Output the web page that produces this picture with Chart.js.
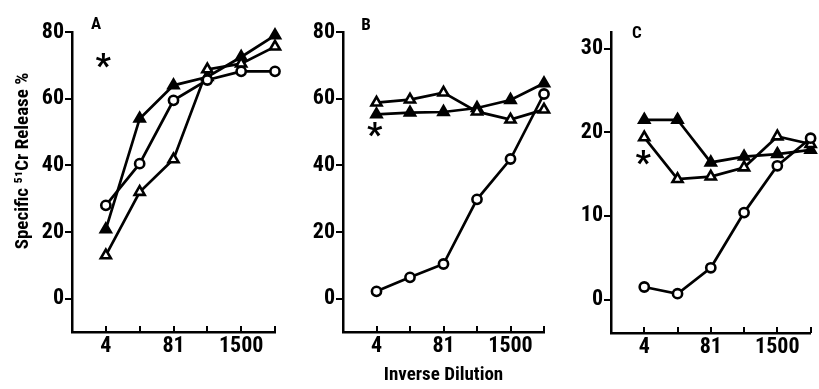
<!DOCTYPE html>
<html><head><meta charset="utf-8">
<script src="https://cdn.jsdelivr.net/npm/chart.js@4/dist/chart.umd.min.js"></script>
<style>
html,body{margin:0;padding:0;background:#fff;}
#wrap{position:relative;width:819px;height:389px;overflow:hidden;background:#fff;}
canvas{position:absolute;left:0;top:0;}
</style></head><body>
<div id="wrap">
<canvas id="cA" width="819" height="389"></canvas>
<canvas id="cB" width="819" height="389"></canvas>
<canvas id="cC" width="819" height="389"></canvas>
</div>
<script>
// ---- data ----
const xPositions = [0, 1, 2, 3, 4, 5];
const xTickLabels = ['4', '', '81', '', '1500', ''];

const A_openTri   = [13.0, 32.0, 41.8, 68.8, 70.5, 75.6];
const A_filledTri = [20.8, 54.0, 64.0, 66.5, 72.5, 79.0];
const A_circle    = [28.0, 40.5, 59.5, 65.6, 68.2, 68.2];
const A_yTicks    = [0, 20, 40, 60, 80];

const B_openTri   = [58.8, 59.7, 61.8, 56.1, 53.7, 56.7];
const B_filledTri = [55.3, 55.8, 56.0, 57.2, 59.6, 64.6];
const B_circle    = [2.2, 6.4, 10.4, 29.8, 41.9, 61.4];
const B_yTicks    = [0, 20, 40, 60, 80];

const C_openTri   = [19.4, 14.4, 14.7, 15.8, 19.5, 18.6];
const C_filledTri = [21.5, 21.5, 16.4, 17.1, 17.4, 17.9];
const C_circle    = [1.5, 0.7, 3.8, 10.4, 16.0, 19.3];
const C_yTicks    = [0, 10, 20, 30];

const panelLetters = ['A', 'B', 'C'];
const yTitle = 'Specific \u2075\u00B9Cr Release %';
const xTitle = 'Inverse Dilution';

// ---- style ----
const ink = '#000';
const FAM = '"Roboto Condensed", "Open Sans", sans-serif';
const tickFont = {family: FAM, size: 22, weight: 'bold'};

function pts(vals){ return xPositions.map((x, i) => ({x: x, y: vals[i]})); }

function ds(vals, style){
  const base = {data: pts(vals), borderColor: ink, borderWidth: 2.7, pointBorderColor: ink,
    pointBorderWidth: 2.6, pointHoverRadius: 5, tension: 0, clip: false, fill: false};
  if (style === 'circle') return Object.assign(base, {pointStyle: 'circle', pointRadius: 4.6, pointBackgroundColor: '#fff'});
  if (style === 'open') return Object.assign(base, {pointStyle: 'triangle', pointRadius: 5.8, pointBackgroundColor: '#fff'});
  return Object.assign(base, {pointStyle: 'triangle', pointRadius: 5.8, pointBackgroundColor: ink});
}

const xTickMarks = {
  id: 'xTickMarks',
  afterDraw(chart){
    const ctx = chart.ctx, xs = chart.scales.x, a = chart.chartArea;
    ctx.save(); ctx.strokeStyle = ink; ctx.lineWidth = 2;
    xPositions.forEach(v => {
      const px = Math.round(xs.getPixelForValue(v));
      ctx.beginPath(); ctx.moveTo(px, a.bottom); ctx.lineTo(px, a.bottom - 6); ctx.stroke();
    });
    ctx.restore();
  }
};

// text annotations placed in data coordinates, centred on their glyph box
function notesPlugin(notes){
  return {
    id: 'notes',
    afterDraw(chart){
      const ctx = chart.ctx, xs = chart.scales.x, ys = chart.scales.y;
      ctx.save(); ctx.fillStyle = ink; ctx.textAlign = 'center'; ctx.textBaseline = 'alphabetic';
      notes.forEach(n => {
        ctx.font = n.font;
        const m = ctx.measureText(n.text);
        const off = (m.actualBoundingBoxAscent - m.actualBoundingBoxDescent) / 2;
        const px = xs.getPixelForValue(n.x), py = ys.getPixelForValue(n.y);
        ctx.save(); ctx.translate(px, py);
        if (n.rotate) ctx.rotate(-Math.PI / 2);
        ctx.fillText(n.text, 0, off);
        ctx.restore();
      });
      ctx.restore();
    }
  };
}

function makePanel(id, circ, open, filled, yMin, yMax, yTicks, area, notes){
  const H = 30, W = 60;
  new Chart(document.getElementById(id), {
    type: 'line',
    data: {datasets: [ds(circ, 'circle'), ds(open, 'open'), ds(filled, 'filled')]},
    options: {
      responsive: false, animation: false, devicePixelRatio: 1,
      layout: {padding: {left: area.left - W, right: 819 - area.right, top: area.top, bottom: 389 - area.bottom - H}},
      plugins: {legend: {display: false}, tooltip: {enabled: false}},
      scales: {
        x: {type: 'linear', min: -1, max: 5,
          afterBuildTicks: s => { s.ticks = [-1].concat(xPositions).map(v => ({value: v})); },
          afterFit: s => { s.height = H; },
          grid: {display: false, drawTicks: false},
          border: {display: true, color: ink, width: 2.5},
          ticks: {autoSkip: false, maxRotation: 0, padding: 1, color: ink, font: tickFont,
            callback: v => (xTickLabels[v] !== undefined ? xTickLabels[v] : '')}
        },
        y: {type: 'linear', min: yMin, max: yMax,
          afterBuildTicks: s => { s.ticks = yTicks.map(v => ({value: v})); },
          afterFit: s => { s.width = W; },
          grid: {display: true, drawOnChartArea: false, drawTicks: true, tickLength: 7, color: ink, lineWidth: 2},
          border: {display: true, color: ink, width: 2.5},
          ticks: {padding: 1, color: ink, font: tickFont}
        }
      }
    },
    plugins: [xTickMarks, notesPlugin(notes)]
  });
}

const letterFont = 'bold 17px ' + FAM;
const starFont = 'bold 34px ' + FAM;
const titleFont = 'bold 19px ' + FAM;

makePanel('cA', A_circle, A_openTri, A_filledTri, -10, 80, A_yTicks,
  {left: 72, right: 275, top: 32, bottom: 332},
  [{text: panelLetters[0], x: -0.29, y: 82.7, font: letterFont},
   {text: '*', x: -0.08, y: 71.6, font: starFont},
   {text: yTitle, x: -2.46, y: 41.3, font: titleFont, rotate: true}]);

makePanel('cB', B_circle, B_openTri, B_filledTri, -10, 80, B_yTicks,
  {left: 343, right: 544, top: 32, bottom: 332},
  [{text: panelLetters[1], x: -0.31, y: 82.4, font: letterFont},
   {text: '*', x: -0.05, y: 50.7, font: starFont},
   {text: xTitle, x: 2, y: -22.3, font: titleFont}]);

makePanel('cC', C_circle, C_openTri, C_filledTri, -4, 32, C_yTicks,
  {left: 611, right: 811, top: 32, bottom: 333},
  [{text: panelLetters[2], x: -0.22, y: 32.0, font: letterFont},
   {text: '*', x: -0.03, y: 17.0, font: starFont}]);
</script>
</body></html>
